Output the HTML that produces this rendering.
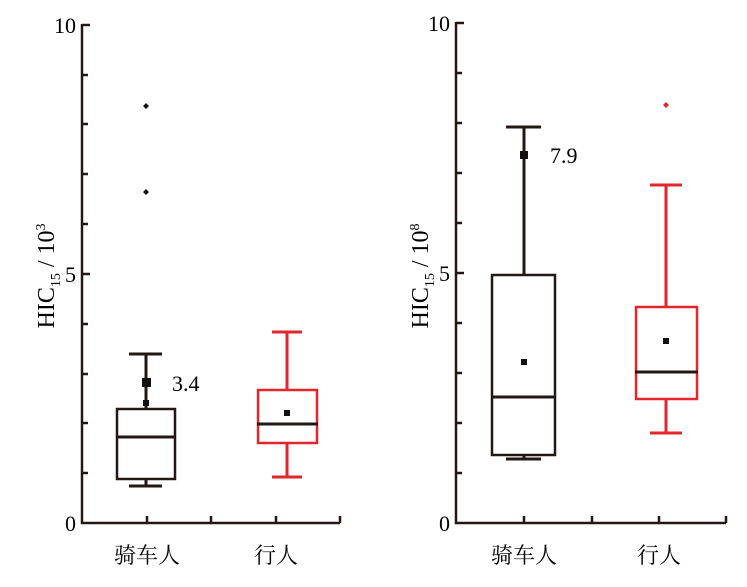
<!DOCTYPE html>
<html><head><meta charset="utf-8"><style>
body{margin:0;background:#fff}
</style></head><body>
<svg width="747" height="582" viewBox="0 0 747 582" xmlns="http://www.w3.org/2000/svg">
<g stroke="#231815" stroke-width="2.5" fill="none">
<path d="M82 24 V523 H340"/>
<path d="M82 25H90M82 75H88M82 124H88M82 174H88M82 224H88M82 274H90M82 324H88M82 374H88M82 423H88M82 473H88"/>
<path d="M147 523V516M211 523V516M276 523V516M340 523V516"/>
<path d="M456 22 V523 H726"/>
<path d="M456 23H464M456 73H462M456 123H462M456 173H462M456 223H462M456 273H464M456 323H462M456 373H462M456 423H462M456 473H462"/>
<path d="M524 523V516M592 523V516M659 523V516M726 523V516"/>
</g>
<g fill="#000" style="font-family:'Liberation Serif','Noto Serif CJK SC',serif;font-size:22px">
<text x="76" y="33" text-anchor="end">10</text>
<text x="76" y="282" text-anchor="end">5</text>
<text x="76" y="531" text-anchor="end">0</text>
<text x="450" y="31" text-anchor="end">10</text>
<text x="450" y="281" text-anchor="end">5</text>
<text x="450" y="531" text-anchor="end">0</text>
<text x="147" y="563" text-anchor="middle">骑车人</text>
<text x="276" y="563" text-anchor="middle">行人</text>
<text x="524" y="563" text-anchor="middle">骑车人</text>
<text x="659" y="563" text-anchor="middle">行人</text>
<text transform="translate(54 276) rotate(-90)" text-anchor="middle" style="font-size:24px">HIC<tspan style="font-size:14px" dy="6">15</tspan><tspan dy="-6"> / 10</tspan><tspan style="font-size:14px" dy="-9">3</tspan></text>
<text transform="translate(428 276) rotate(-90)" text-anchor="middle" style="font-size:24px">HIC<tspan style="font-size:14px" dy="6">15</tspan><tspan dy="-6"> / 10</tspan><tspan style="font-size:14px" dy="-9">8</tspan></text>
<text x="172" y="391">3.4</text>
<text x="550" y="163">7.9</text>
</g>
<g stroke="#231815" stroke-width="3" fill="none">
<path d="M146 354V408M146 478V486M129 354H162M129 486H162"/>
<rect x="117" y="409" width="58" height="70" stroke-width="2.5"/>
<path d="M117 437H175"/>
</g>
<rect x="142" y="378" width="9" height="9" fill="#111"/>
<rect x="143" y="400" width="6" height="6" fill="#111"/>
<path d="M146 103l3 3-3 3-3-3z M146 189l3 3-3 3-3-3z" fill="#111"/>
<g stroke="#e2262b" stroke-width="3" fill="none">
<path d="M287 332V390M287 443V477M272 332H302M272 477H302"/>
<rect x="258" y="390" width="59" height="53" stroke-width="2.5"/>
</g>
<path d="M257 424H318" stroke="#231815" stroke-width="3"/>
<rect x="284" y="410" width="6" height="6" fill="#111"/>
<g stroke="#231815" stroke-width="3" fill="none">
<path d="M524 127V275M524 455V459M506 127H541M506 459H541"/>
<rect x="492" y="275" width="63" height="180" stroke-width="2.5"/>
<path d="M492 397H556"/>
</g>
<rect x="520" y="151" width="8" height="8" fill="#111"/>
<rect x="521" y="359" width="6" height="6" fill="#111"/>
<g stroke="#e2262b" stroke-width="3" fill="none">
<path d="M666 185V307M666 399V433M650 185H682M650 433H682"/>
<rect x="636" y="307" width="61" height="92" stroke-width="2.5"/>
</g>
<path d="M635 372H698" stroke="#231815" stroke-width="3"/>
<rect x="663" y="338" width="6" height="6" fill="#111"/>
<path d="M666 102l3 3-3 3-3-3z" fill="#e2262b"/>
</svg>
</body></html>
